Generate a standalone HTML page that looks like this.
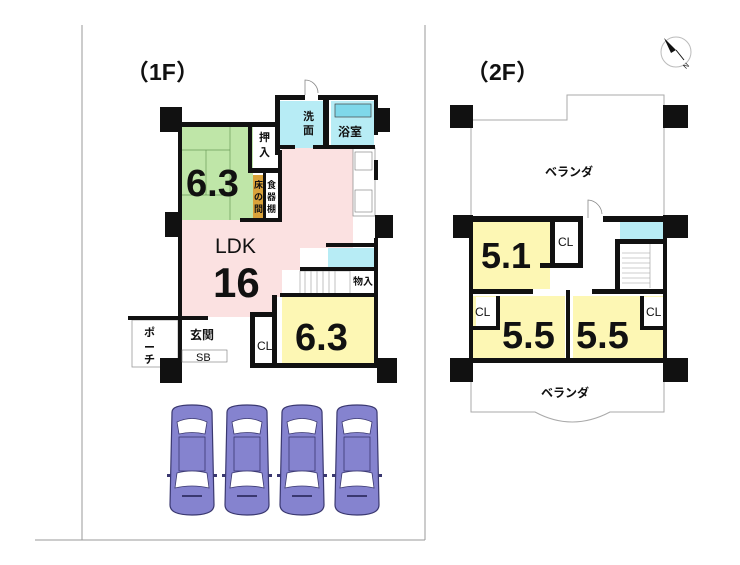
<!DOCTYPE html>
<html><head><meta charset="utf-8"><style>
html,body{margin:0;padding:0;background:#fff;width:740px;height:565px;overflow:hidden}
svg{display:block}
text{font-family:"Liberation Sans","Noto Sans CJK JP",sans-serif;fill:#111}
.j{font-family:"Noto Sans CJK JP","Liberation Sans",sans-serif;font-weight:bold}
</style></head><body>
<svg width="740" height="565" viewBox="0 0 740 565" xmlns="http://www.w3.org/2000/svg">
<defs>
<g id="car">
 <path d="M-20,-48 Q-20,-55 0,-55 Q20,-55 20,-48 L22,45 Q22,55 0,55 Q-22,55 -22,45 Z" fill="#8583cf" stroke="#3a3870" stroke-width="1.2"/>
 <path d="M-15,-38 Q0,-45 15,-38 L13,-26 Q0,-29 -13,-26 Z" fill="#fff" stroke="#3a3870" stroke-width="0.8"/>
 <rect x="-13" y="-23" width="26" height="34" fill="#8583cf" stroke="#3a3870" stroke-width="0.8"/>
 <path d="M-15,13 Q0,9 15,13 L17,28 Q0,24 -17,28 Z" fill="#fff" stroke="#3a3870" stroke-width="0.8"/>
 <line x1="-10" y1="36" x2="10" y2="36" stroke="#3a3870" stroke-width="2"/>
 <rect x="-25" y="14" width="4" height="3" fill="#3a3870"/><rect x="21" y="14" width="4" height="3" fill="#3a3870"/>
</g>
</defs>

<g stroke="#999" stroke-width="1" fill="none">
<line x1="82" y1="25" x2="82" y2="540"/>
<line x1="425" y1="25" x2="425" y2="540"/>
<line x1="35" y1="540" x2="425" y2="540"/>
</g>

<text x="126" y="80" font-size="23" font-weight="bold">（1F）</text>
<text x="466" y="80" font-size="23" font-weight="bold">（2F）</text>

<circle cx="676" cy="52" r="15" fill="#fff" stroke="#bbb"/>
<path d="M664,38 L676,50 L671,53 Z" fill="#111"/>
<line x1="676" y1="50" x2="684" y2="60" stroke="#111" stroke-width="1"/>
<text x="683" y="68" font-size="7" transform="rotate(-45 686 65)">N</text>

<!-- ===== 1F ===== -->
<rect x="182" y="126" width="71" height="94" fill="#bfe6a8"/>
<g stroke="#6a9a58" stroke-width="0.7" fill="none">
<line x1="182" y1="150" x2="230" y2="150"/><line x1="230" y1="126" x2="230" y2="220"/>
<line x1="182" y1="195" x2="230" y2="195"/><line x1="206" y1="150" x2="206" y2="195"/>
</g>
<rect x="253" y="175" width="10" height="43" fill="#d9a23a"/>
<rect x="253" y="126" width="22" height="42" fill="#fff"/>
<rect x="266" y="175" width="12" height="43" fill="#fff"/>
<path d="M182,220 L282,220 L282,147 L353,147 L353,248 L300,248 L300,270 L282,270 L282,297 L272,297 L272,317 L182,317 Z" fill="#fbe1e1"/>
<rect x="280" y="101" width="43" height="47" fill="#b7ecf5"/>
<rect x="331" y="101" width="43" height="47" fill="#b7ecf5"/>
<rect x="335" y="104" width="36" height="13" fill="#7fd8ea" stroke="#444" stroke-width="0.7"/>
<rect x="328" y="248" width="48" height="19" fill="#b7ecf5"/>
<rect x="353" y="148" width="22" height="68" fill="#fff" stroke="#888" stroke-width="0.7"/>
<rect x="355" y="152" width="17" height="18" fill="#fff" stroke="#777" stroke-width="0.6"/>
<rect x="355" y="190" width="17" height="22" fill="#fff" stroke="#777" stroke-width="0.6"/>
<rect x="282" y="297" width="92" height="66" fill="#fdf7b4"/>
<g stroke="#999" stroke-width="0.6">
<rect x="300" y="271" width="50" height="24" fill="#fff"/>
<line x1="305" y1="271" x2="305" y2="295"/><line x1="311" y1="271" x2="311" y2="295"/><line x1="317" y1="271" x2="317" y2="295"/><line x1="323" y1="271" x2="323" y2="295"/><line x1="329" y1="271" x2="329" y2="295"/><line x1="335" y1="271" x2="335" y2="295"/>
</g>
<rect x="182" y="320" width="48" height="43" fill="#fff"/>
<rect x="132" y="320" width="46" height="47" fill="#fff" stroke="#999" stroke-width="0.8"/>

<g fill="#111">
<rect x="160" y="107" width="22" height="25"/>
<rect x="182" y="122" width="96" height="5"/>
<rect x="275" y="95" width="5" height="60"/>
<rect x="275" y="95" width="30" height="5"/>
<rect x="318" y="95" width="58" height="5"/>
<rect x="323" y="100" width="6" height="48"/>
<rect x="374" y="95" width="4" height="40"/>
<rect x="377" y="108" width="13" height="24"/>
<rect x="280" y="145" width="15" height="4"/><rect x="313" y="145" width="62" height="4"/>
<rect x="248" y="168" width="30" height="5"/>
<rect x="263" y="173" width="3" height="47"/>
<rect x="248" y="126" width="4" height="47"/>
<rect x="240" y="218" width="40" height="4"/>
<rect x="278" y="150" width="4" height="72"/>
<rect x="374" y="160" width="4" height="20"/>
<rect x="375" y="215" width="18" height="23"/>
<rect x="326" y="243" width="51" height="4"/>
<rect x="374" y="238" width="4" height="125"/>
<rect x="300" y="267" width="77" height="4"/>
<rect x="280" y="293" width="97" height="4"/>
<rect x="272" y="295" width="5" height="68"/>
<rect x="252" y="312" width="25" height="5"/>
<rect x="250" y="312" width="5" height="56"/>
<rect x="250" y="363" width="127" height="5"/>
<rect x="377" y="358" width="20" height="25"/>
<rect x="160" y="358" width="22" height="25"/>
<rect x="178" y="126" width="4" height="86"/>
<rect x="165" y="212" width="17" height="25"/>
<rect x="178" y="237" width="4" height="83"/>
<rect x="128" y="316" width="80" height="4"/>
<rect x="178" y="320" width="4" height="40"/>
</g>
<rect x="182" y="350" width="45" height="12" fill="#fff" stroke="#777" stroke-width="0.6"/>
<path d="M305,95 L305,80 A13,13 0 0 1 318,93" fill="none" stroke="#888" stroke-width="0.8"/>

<text x="186" y="196" font-size="38" font-weight="bold">6.3</text>
<text x="259" y="141" font-size="11" class="j">押</text><text x="259" y="156" font-size="11" class="j">入</text>
<text x="303" y="120" font-size="11" class="j">洗</text><text x="303" y="134" font-size="11" class="j">面</text>
<text x="338" y="136" font-size="12" class="j">浴室</text>
<text x="254" y="188" font-size="9" class="j">床</text><text x="254" y="200" font-size="9" class="j">の</text><text x="254" y="212" font-size="9" class="j">間</text>
<text x="267" y="188" font-size="9" class="j">食</text><text x="267" y="200" font-size="9" class="j">器</text><text x="267" y="212" font-size="9" class="j">棚</text>
<text x="215" y="253" font-size="21">LDK</text>
<text x="213" y="297" font-size="42" font-weight="bold">16</text>
<text x="353" y="285" font-size="10" class="j">物入</text>
<text x="295" y="350" font-size="38" font-weight="bold">6.3</text>
<text x="257" y="350" font-size="12">CL</text>
<text x="190" y="339" font-size="12" class="j">玄関</text>
<text x="196" y="361" font-size="11">SB</text>
<text x="144" y="336" font-size="11" class="j">ポ</text><text x="144" y="351" font-size="11" class="j">ー</text><text x="144" y="363" font-size="11" class="j">チ</text>

<use href="#car" x="192" y="460"/>
<use href="#car" x="247" y="460"/>
<use href="#car" x="302" y="460"/>
<use href="#car" x="357" y="460"/>

<!-- ===== 2F ===== -->
<g fill="none" stroke="#aaa" stroke-width="1">
<path d="M471,220 L471,120 L567,120 L567,95 L664,95 L664,220"/>
<path d="M471,380 L471,412 L535,412 Q572,432 610,412 L664,412 L664,380"/>
</g>
<text x="545" y="176" font-size="12" class="j">ベランダ</text>
<text x="541" y="397" font-size="12" class="j">ベランダ</text>

<rect x="473" y="222" width="77" height="67" fill="#fdf7b4"/>
<rect x="473" y="296" width="92" height="64" fill="#fdf7b4"/>
<rect x="573" y="296" width="90" height="64" fill="#fdf7b4"/>
<rect x="476" y="297" width="20" height="30" fill="#fff"/>
<rect x="643" y="297" width="20" height="30" fill="#fff"/>
<rect x="620" y="222" width="43" height="17" fill="#b7ecf5"/>
<g stroke="#999" stroke-width="0.6">
<line x1="622" y1="253" x2="650" y2="253"/><line x1="622" y1="258" x2="650" y2="258"/><line x1="622" y1="263" x2="650" y2="263"/><line x1="622" y1="268" x2="650" y2="268"/><line x1="622" y1="273" x2="650" y2="273"/><line x1="622" y1="278" x2="650" y2="278"/><line x1="622" y1="283" x2="650" y2="283"/>
<line x1="650" y1="243" x2="650" y2="288"/>
</g>
<path d="M588,218 L588,200 A15,15 0 0 1 602,214" fill="none" stroke="#888" stroke-width="0.8"/>

<g fill="#111">
<rect x="450" y="105" width="23" height="23"/>
<rect x="663" y="105" width="25" height="23"/>
<rect x="453" y="215" width="20" height="23"/>
<rect x="663" y="215" width="25" height="23"/>
<rect x="473" y="216" width="110" height="6"/><rect x="603" y="216" width="60" height="6"/>
<rect x="550" y="222" width="5" height="42"/>
<rect x="578" y="222" width="5" height="46"/>
<rect x="540" y="263" width="43" height="5"/>
<rect x="615" y="239" width="48" height="5"/>
<rect x="615" y="239" width="5" height="52"/>
<rect x="469" y="238" width="4" height="122"/>
<rect x="473" y="289" width="60" height="5"/><rect x="592" y="289" width="71" height="5"/>
<rect x="566" y="290" width="4" height="70"/>
<rect x="496" y="296" width="4" height="32"/><rect x="473" y="326" width="27" height="4"/>
<rect x="640" y="296" width="4" height="32"/><rect x="640" y="326" width="23" height="4"/>
<rect x="663" y="238" width="4" height="122"/>
<rect x="473" y="358" width="190" height="5"/>
<rect x="450" y="358" width="23" height="24"/>
<rect x="663" y="358" width="25" height="24"/>
</g>
<text x="481" y="268" font-size="36" font-weight="bold">5.1</text>
<text x="558" y="246" font-size="12">CL</text>
<text x="475" y="316" font-size="12">CL</text>
<text x="646" y="316" font-size="12">CL</text>
<text x="502" y="348" font-size="38" font-weight="bold">5.5</text>
<text x="576" y="348" font-size="38" font-weight="bold">5.5</text>
</svg>
</body></html>
